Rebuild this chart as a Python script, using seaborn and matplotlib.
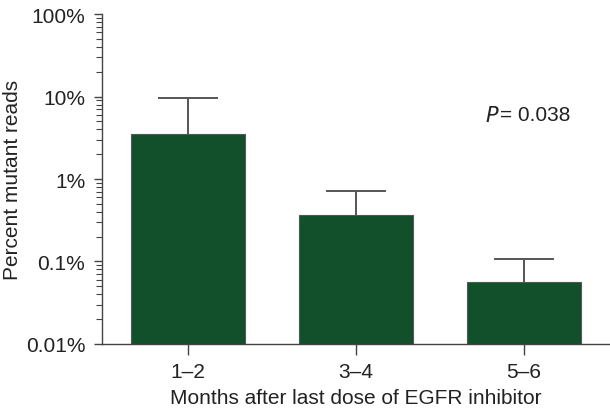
import numpy as np
import pandas as pd
import matplotlib
matplotlib.use("Agg")
import matplotlib.pyplot as plt
import seaborn as sns

# values (percent mutant reads)
months = ["1\u20132", "3\u20134", "5\u20136"]
mean_pct = [3.5, 0.37, 0.056]
upper_pct = [9.6, 0.71, 0.107]

sns.set_style("ticks")
plt.rcParams['font.family'] = ['Liberation Sans', 'DejaVu Sans']
plt.rcParams['text.color'] = '#222222'
plt.rcParams['axes.labelcolor'] = '#222222'
plt.rcParams['xtick.color'] = '#222222'
plt.rcParams['ytick.color'] = '#222222'

df = pd.DataFrame({"months": months, "pct": mean_pct})

fig = plt.figure(figsize=(6.1, 4.14), dpi=100)
ax = fig.add_axes([0.167, 0.1667, 0.833, 0.797])

sns.barplot(data=df, x="months", y="pct", color="#12502c", width=0.68,
            edgecolor="#555555", linewidth=0.8, saturation=1, ax=ax, zorder=2)

# only the upper arm of the error bars is drawn
err_up = np.array(upper_pct) - np.array(mean_pct)
eb = ax.errorbar(np.arange(len(months)), mean_pct,
                 yerr=[np.zeros(len(months)), err_up],
                 fmt="none", ecolor="#555555", elinewidth=1.4, capsize=21.5,
                 capthick=1.4, zorder=1)
eb[1][0].set_visible(False)  # hide lower caps

ax.set_yscale("log")
ax.set_ylim(0.01, 100)
ax.set_xlim(-0.512, 2.512)
ax.set_yticks([0.01, 0.1, 1, 10, 100])
ax.set_yticklabels(["0.01%", "0.1%", "1%", "10%", "100%"])

ax.tick_params(axis="both", which="major", labelsize=15, length=6, width=1,
               color="#444444")
ax.tick_params(axis="y", which="major", pad=6)
ax.tick_params(axis="y", which="minor", length=4, width=0.8, color="#444444")
ax.tick_params(axis="x", which="major", length=8, pad=5)

ax.set_xlabel("Months after last dose of EGFR inhibitor", fontsize=15, labelpad=5)
ax.set_ylabel("Percent mutant reads", fontsize=15)
ax.yaxis.set_label_coords(-0.158, 0.5)

sns.despine(ax=ax)
for side in ["left", "bottom"]:
    ax.spines[side].set_color("#444444")
    ax.spines[side].set_linewidth(1)

ax.text(0.754, 0.694, "$P$", transform=ax.transAxes, fontsize=15,
        ha="left", va="center")
ax.text(0.783, 0.694, "= 0.038", transform=ax.transAxes, fontsize=15,
        ha="left", va="center")

fig.savefig("out.png", dpi=100)
